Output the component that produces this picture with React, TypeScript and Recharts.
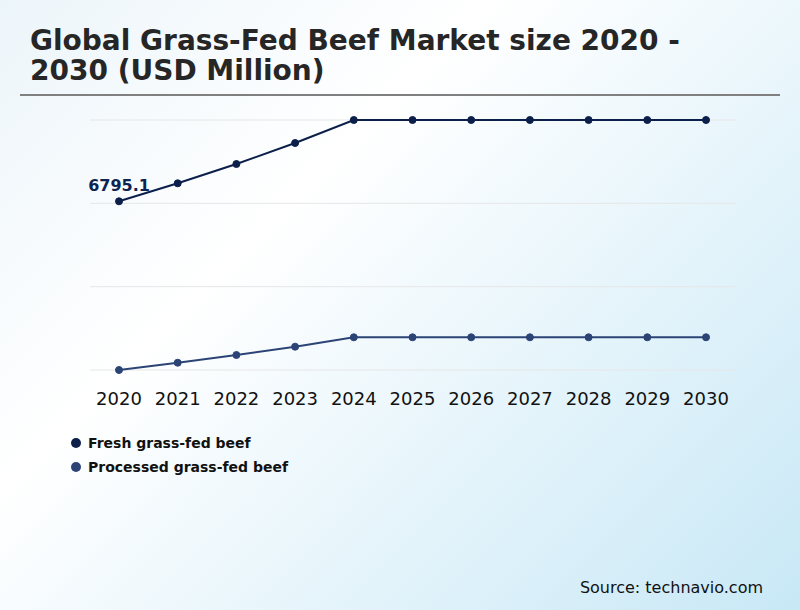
import React from 'react';
import { LineChart, Line, XAxis, YAxis, CartesianGrid, LabelList } from 'recharts';

const years = ['2020', '2021', '2022', '2023', '2024', '2025', '2026', '2027', '2028', '2029', '2030'];
const freshValues = [6795.1, 7338, 7921, 8555, 9250, 9250, 9250, 9250, 9250, 9250, 9250];
const processedValues = [1700, 1920, 2153, 2404, 2688, 2688, 2688, 2688, 2688, 2688, 2688];
const seriesNames = ['Fresh grass-fed beef', 'Processed grass-fed beef'];

const yMin = 1700;
const yMax = 9250;
const yTicks = [0, 1, 2, 3].map((i) => yMin + ((yMax - yMin) * i) / 3);

const FRESH = '#0c1f4a';
const PROCESSED = '#2c4475';

const data = years.map((y, i) => ({ year: y, fresh: freshValues[i], processed: processedValues[i] }));

const font = '"DejaVu Sans", sans-serif';

export default function App() {
  return (
    <div
      style={{
        position: 'absolute',
        left: 0,
        top: 0,
        width: 800,
        height: 610,
        overflow: 'hidden',
        background: 'linear-gradient(135deg, #ecf5fa 0%, #ffffff 35%, #c8e8f6 100%)',
        fontFamily: font,
      }}
    >
      <div
        style={{
          position: 'absolute',
          left: 30,
          top: 26,
          width: 700,
          fontSize: 28,
          lineHeight: '30px',
          fontWeight: 'bold',
          color: '#262626',
        }}
      >
        Global Grass-Fed Beef Market size 2020 - 2030 (USD Million)
      </div>
      <div style={{ position: 'absolute', left: 20, top: 94, width: 760, height: 2, background: '#808080' }} />
      <div style={{ position: 'absolute', left: 0, top: 0 }}>
        <LineChart width={800} height={440} data={data} margin={{ top: 120, left: 90, right: 64, bottom: 30 }}>
          <CartesianGrid vertical={false} stroke="#e6e6e6" />
          <XAxis
            dataKey="year"
            height={40}
            axisLine={false}
            tickLine={false}
            tickMargin={16}
            padding={{ left: 29, right: 30 }}
            tick={{ fontSize: 18, fill: '#111', fontFamily: font }}
            interval={0}
          />
          <YAxis hide domain={[yMin, yMax]} ticks={yTicks} />
          <Line
            type="linear"
            dataKey="fresh"
            name={seriesNames[0]}
            stroke={FRESH}
            strokeWidth={2}
            dot={{ r: 3.5, fill: FRESH, stroke: FRESH, strokeWidth: 1 }}
            isAnimationActive={false}
          >
            <LabelList
              dataKey="fresh"
              position="top"
              content={(props: any) =>
                props.index === 0 ? (
                  <text
                    x={props.x}
                    y={props.y - 10}
                    textAnchor="middle"
                    fontSize={16}
                    fontWeight="bold"
                    fill="#0d2350"
                    fontFamily={font}
                  >
                    {props.value}
                  </text>
                ) : null
              }
            />
          </Line>
          <Line
            type="linear"
            dataKey="processed"
            name={seriesNames[1]}
            stroke={PROCESSED}
            strokeWidth={2}
            dot={{ r: 3.5, fill: PROCESSED, stroke: PROCESSED, strokeWidth: 1 }}
            isAnimationActive={false}
          />
        </LineChart>
      </div>
      <div style={{ position: 'absolute', left: 71, top: 431, width: 300 }}>
        {[FRESH, PROCESSED].map((color, i) => (
          <div key={i} style={{ display: 'flex', alignItems: 'center', height: 24 }}>
            <span
              style={{
                display: 'inline-block',
                width: 10,
                height: 10,
                borderRadius: 5,
                background: color,
                marginRight: 7,
              }}
            />
            <span style={{ fontWeight: 'bold', fontSize: 14, color: '#111' }}>{seriesNames[i]}</span>
          </div>
        ))}
      </div>
      <div
        style={{
          position: 'absolute',
          right: 37,
          top: 578,
          fontSize: 16,
          color: '#111',
        }}
      >
        Source: technavio.com
      </div>
    </div>
  );
}
